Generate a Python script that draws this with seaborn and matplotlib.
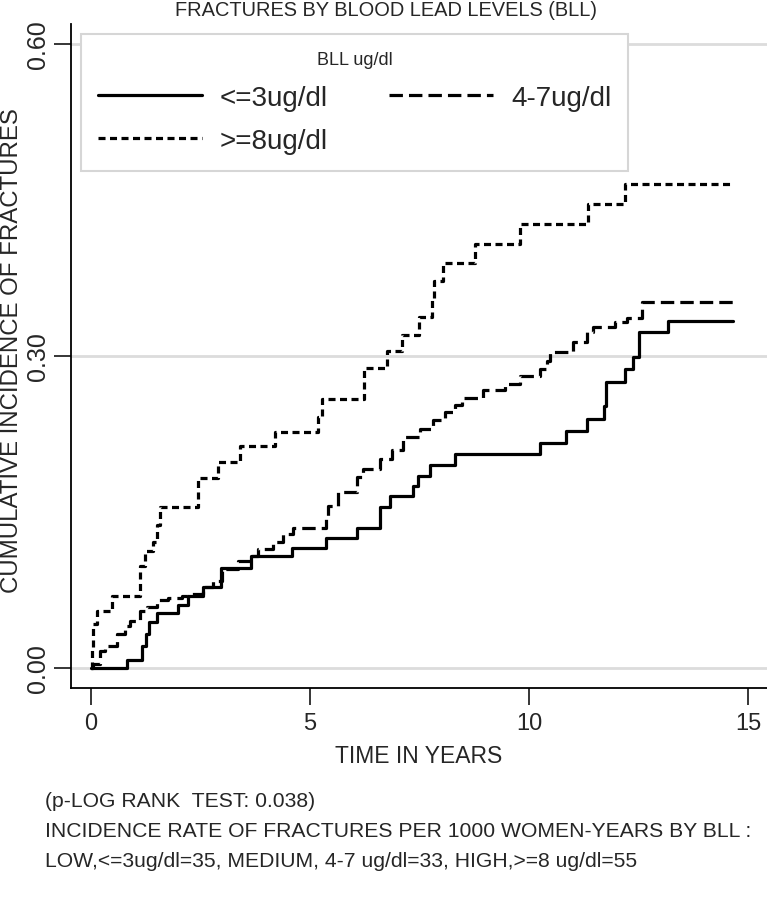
import pandas as pd
import numpy as np
import matplotlib
matplotlib.use('Agg')
import matplotlib.pyplot as plt
import seaborn as sns

# Curvas de incidência acumulada
low_t = [0, 0.82, 1.16, 1.25, 1.32, 1.51, 1.99, 2.21, 2.56, 2.97, 3.65, 4.59, 5.37,
         6.07, 6.60, 6.83, 7.35, 7.47, 7.74, 8.31, 10.25, 10.84, 11.32, 11.71, 11.76,
         12.19, 12.37, 12.51, 13.17, 14.66]
low_v = [0, 0.008, 0.021, 0.033, 0.044, 0.053, 0.061, 0.069, 0.078, 0.096, 0.108, 0.115,
         0.125, 0.135, 0.155, 0.165, 0.175, 0.185, 0.195, 0.206, 0.216, 0.228, 0.239,
         0.252, 0.275, 0.2875, 0.299, 0.323, 0.334, 0.334]

med_t = [0, 0.05, 0.21, 0.32, 0.59, 0.78, 0.89, 1.12, 1.28, 1.51, 1.76, 2.08, 2.21, 2.56,
         2.79, 2.99, 3.36, 3.68, 3.81, 4.16, 4.38, 4.61, 5.36, 5.41, 5.64, 6.07, 6.21, 6.60,
         6.87, 7.12, 7.51, 7.81, 8.08, 8.31, 8.47, 8.95, 9.45, 9.79, 10.25, 10.41, 10.48,
         11.00, 11.32, 11.46, 11.96, 12.24, 12.58, 14.66]
med_v = [0, 0.004, 0.016, 0.021, 0.033, 0.040, 0.045, 0.055, 0.059, 0.065, 0.067, 0.069,
         0.071, 0.078, 0.084, 0.095, 0.103, 0.108, 0.114, 0.121, 0.129, 0.135, 0.145,
         0.156, 0.169, 0.184, 0.191, 0.201, 0.210, 0.222, 0.230, 0.238, 0.246, 0.253,
         0.260, 0.267, 0.273, 0.281, 0.287, 0.295, 0.304, 0.313, 0.323, 0.328, 0.333,
         0.3365, 0.352, 0.352]

high_t = [0, 0.03, 0.05, 0.14, 0.48, 1.12, 1.23, 1.42, 1.51, 1.58, 2.44, 2.90, 3.40, 4.20,
          5.18, 5.27, 6.23, 6.76, 7.10, 7.49, 7.79, 7.83, 8.04, 8.77, 9.79, 11.35, 12.19,
          14.66]
high_v = [0, 0.020, 0.042, 0.055, 0.069, 0.098, 0.112, 0.121, 0.137, 0.155, 0.183, 0.198,
          0.213, 0.227, 0.241, 0.259, 0.288, 0.305, 0.320, 0.3375, 0.355, 0.372, 0.389,
          0.408, 0.427, 0.446, 0.465, 0.465]

labels = ['<=3ug/dl', '4-7ug/dl', '>=8ug/dl']
x_ticks = [0, 5, 10, 15]
y_ticks = [0.0, 0.3, 0.6]
y_tick_labels = ['0.00', '0.30', '0.60']

title = 'FRACTURES BY BLOOD LEAD LEVELS (BLL)'
notes = ['(p-LOG RANK  TEST: 0.038)',
         'INCIDENCE RATE OF FRACTURES PER 1000 WOMEN-YEARS BY BLL :',
         'LOW,<=3ug/dl=35, MEDIUM, 4-7 ug/dl=33, HIGH,>=8 ug/dl=55']

# Estilo
sns.set_style('white')
plt.rcParams['font.family'] = ['Liberation Sans', 'DejaVu Sans']

fig = plt.figure(figsize=(7.67, 9.03), dpi=100)
ax = fig.add_axes([71/767, 1 - 689/903, 1 - 71/767, (689 - 25)/903])

estilos = [
    (low_t, low_v, labels[0], '-'),
    (med_t, med_v, labels[1], (0, (4.2, 1.9))),
    (high_t, high_v, labels[2], (0, (2.2, 1.4))),
]
for t, v, lab, ls in estilos:
    df = pd.DataFrame({'t': t, 'v': v})
    sns.lineplot(data=df, x='t', y='v', ax=ax, color='black', linewidth=2.3,
                 linestyle=ls, drawstyle='steps-post', estimator=None, sort=False,
                 label=lab)

# Grade horizontal
for y in y_ticks:
    ax.axhline(y, color='#dcdcdc', linewidth=2, zorder=0)

ax.set_xlim(-0.46, 15.43)
ax.set_ylim(-0.0192, 0.619)
ax.set_xticks(x_ticks)
ax.set_xticklabels([str(x) for x in x_ticks], fontsize=17)
ax.set_yticks(y_ticks)
ax.set_yticklabels(y_tick_labels, fontsize=18, rotation=90, va='center')
ax.tick_params(axis='x', length=12, width=1.3, pad=5, direction='out', bottom=True)
ax.tick_params(axis='y', length=12, width=1.3, pad=3, direction='out', left=True)

for s in ['top', 'right']:
    ax.spines[s].set_visible(False)
for s in ['left', 'bottom']:
    ax.spines[s].set_color('black')
    ax.spines[s].set_linewidth(1.3)

ax.set_xlabel('TIME IN YEARS', fontsize=16.5)
ax.xaxis.set_label_coords(0.5, -0.085)
ax.set_ylabel('CUMULATIVE INCIDENCE OF FRACTURES', fontsize=17.3)
ax.yaxis.set_label_coords(-0.069, 0.51)

# Legenda: linha 1 = baixo, médio; linha 2 = alto
linhas = ax.get_lines()[:3]
leg = ax.legend([linhas[0], linhas[2], linhas[1]], [labels[0], labels[2], labels[1]],
                ncol=2, title='BLL ug/dl', fontsize=20, title_fontsize=13,
                loc='upper left', bbox_to_anchor=(0.0144, 0.985), borderaxespad=0,
                frameon=True, fancybox=False, framealpha=1, edgecolor='#d6d6d6',
                handlelength=3.75, columnspacing=2.2, handletextpad=0.65,
                borderpad=0.6, labelspacing=0.62)
leg.get_frame().set_linewidth(1.5)

fig.text(386/767, 1 - 11/903, title, ha='center', va='center', fontsize=14.4)

for i, linha in enumerate(notes):
    fig.text(45/767, 1 - (802 + 30*i)/903, linha, ha='left', va='center', fontsize=15.2)

plt.savefig('out.png', dpi=100)
